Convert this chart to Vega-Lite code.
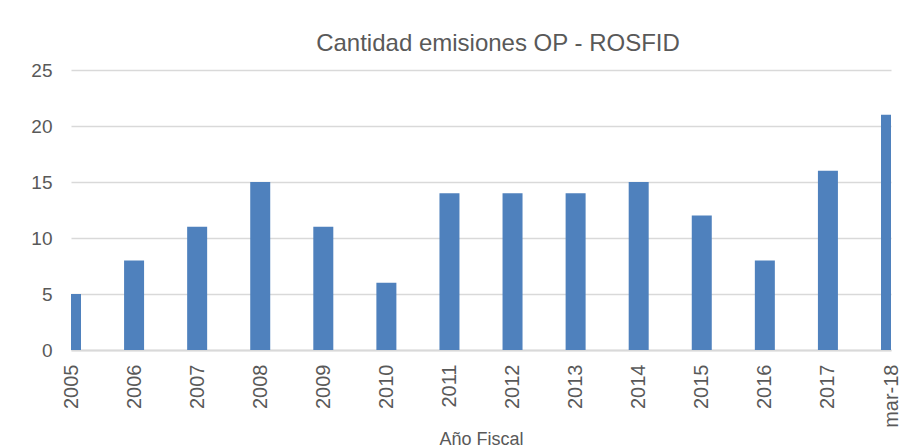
{
  "$schema": "https://vega.github.io/schema/vega-lite/v6.json",
  "autosize": "none",
  "width": 820,
  "height": 280,
  "padding": {"left": 71, "top": 70, "right": 13, "bottom": 98},
  "background": "white",
  "title": {
    "text": "Cantidad emisiones OP - ROSFID",
    "font": "Liberation Sans",
    "fontSize": 24,
    "fontWeight": "normal",
    "color": "#595959",
    "anchor": "middle",
    "dx": 17,
    "offset": 5
  },
  "data": {
    "values": [
      {"anio": "2005", "cantidad": 5},
      {"anio": "2006", "cantidad": 8},
      {"anio": "2007", "cantidad": 11},
      {"anio": "2008", "cantidad": 15},
      {"anio": "2009", "cantidad": 11},
      {"anio": "2010", "cantidad": 6},
      {"anio": "2011", "cantidad": 14},
      {"anio": "2012", "cantidad": 14},
      {"anio": "2013", "cantidad": 14},
      {"anio": "2014", "cantidad": 15},
      {"anio": "2015", "cantidad": 12},
      {"anio": "2016", "cantidad": 8},
      {"anio": "2017", "cantidad": 16},
      {"anio": "mar-18", "cantidad": 21}
    ]
  },
  "mark": {"type": "bar", "color": "#4f81bd", "width": 20, "clip": true},
  "encoding": {
    "x": {
      "field": "anio",
      "type": "ordinal",
      "sort": null,
      "scale": {"type": "point", "padding": 0},
      "axis": {
        "title": "Año Fiscal",
        "titleFont": "Liberation Sans",
        "titleFontSize": 18,
        "titleFontWeight": "normal",
        "titleColor": "#595959",
        "titlePadding": 3,
        "labelAngle": -90,
        "labelFont": "Liberation Sans",
        "labelFontSize": 20,
        "labelColor": "#595959",
        "labelPadding": 14,
        "ticks": false,
        "tickSize": 0,
        "domainColor": "#d9d9d9",
        "domainWidth": 2,
        "grid": false
      }
    },
    "y": {
      "field": "cantidad",
      "type": "quantitative",
      "scale": {"domain": [0, 25]},
      "axis": {
        "title": null,
        "values": [0, 5, 10, 15, 20, 25],
        "labelFont": "Liberation Sans",
        "labelFontSize": 19,
        "labelColor": "#595959",
        "labelPadding": 19,
        "ticks": false,
        "tickSize": 0,
        "domain": false,
        "grid": true,
        "gridColor": "#d9d9d9",
        "gridWidth": 1.5
      }
    }
  },
  "config": {"view": {"stroke": null}}
}
